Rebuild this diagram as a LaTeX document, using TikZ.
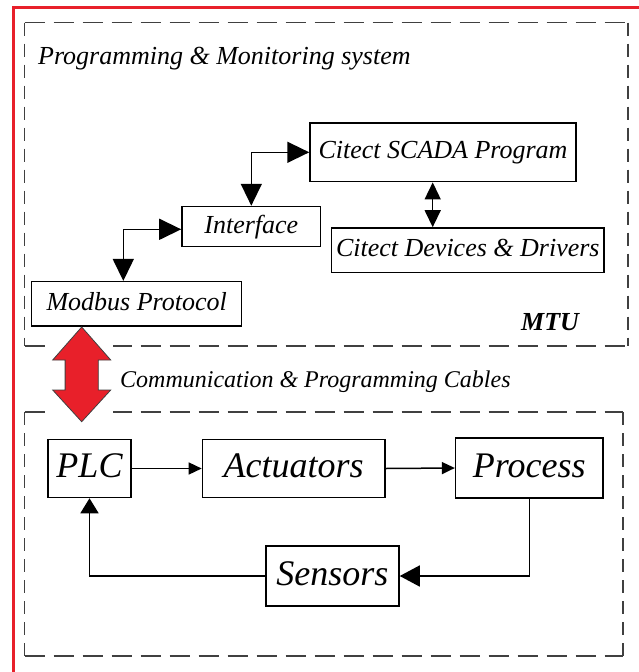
\documentclass[tikz,border=0pt]{standalone}
\usepackage{fontspec}
\setmainfont{Liberation Serif}
\usetikzlibrary{arrows.meta}
\definecolor{frame}{HTML}{E8202A}
\definecolor{dashgray}{HTML}{404040}
\newcommand\smallit{\fontsize{26}{30}\selectfont\itshape}
\newcommand\bigit{\fontsize{36}{40}\selectfont\itshape}
\newcommand\commit{\fontsize{24}{28}\selectfont\itshape}
\newcommand\mtuit{\fontsize{26}{30}\selectfont\bfseries\itshape}
\tikzset{
  box/.style={draw, line width=1.5pt, inner sep=0pt},
  upbox/.style={box, font=\smallit, text height=18.2pt, text depth=5.2pt},
  lowbox/.style={box, font=\bigit, text height=25.2pt, text depth=7.2pt},
  hdash/.style={draw=dashgray, line width=1.5pt, dash pattern=on 20pt off 9pt},
  vdash/.style={draw=dashgray, line width=1.5pt, dash pattern=on 13pt off 8pt},
  conn/.style={line width=1.5pt},
  bigtip/.tip={Triangle[length=22pt, width=21pt]},
  midtip/.tip={Triangle[length=17pt, width=16pt]},
  smalltip/.tip={Triangle[length=13pt, width=12pt]},
  sentip/.tip={Triangle[length=20pt, width=21pt]},
  plctip/.tip={Triangle[length=15pt, width=18pt]},
  label/.style={inner sep=0pt, anchor=base west}
}
\begin{document}
\begin{tikzpicture}[x=1pt, y=-1pt]
\useasboundingbox (0,0) rectangle (639,672);
% red frame
\draw[frame, line width=3pt] (13,7) rectangle (660,690);
% dashed boxes
\path[hdash] (24.5,22.5) -- (628,22.5);
\path[vdash] (24.5,22.5) -- (24.5,346);
\path[vdash] (628,22.5) -- (628,346);
\path[hdash] (24.5,346) -- (628,346);
\path[hdash] (24.5,412) -- (623,412);
\path[vdash] (24.5,412) -- (24.5,656);
\path[vdash] (623,412) -- (623,656);
\path[hdash] (24.5,656) -- (623,656);
% labels
\node[label, font=\smallit] (title) at (38,64) {Programming \& Monitoring system};
\node[label, font=\mtuit] (mtu) at (521,330) {MTU};
\node[label, font=\commit] (comm) at (120,387) {Communication \& Programming Cables};
% upper boxes
\node[upbox, minimum width=266pt, minimum height=58.7pt] (scada) at (443,152.3) {Citect SCADA Program};
\node[upbox, minimum width=138.7pt, minimum height=40.2pt] (iface) at (251.3,226.6) {Interface};
\node[upbox, minimum width=272.3pt, minimum height=44.7pt] (dev) at (467.8,250.3) {Citect Devices \& Drivers};
\node[upbox, minimum width=210pt, minimum height=44.3pt] (modbus) at (136.7,303.8) {Modbus Protocol};
% lower boxes
\node[lowbox, minimum width=83pt, minimum height=58pt] (plc) at (89.5,468.5) {PLC};
\node[lowbox, minimum width=182.5pt, minimum height=58pt] (act) at (293.7,468.5) {Actuators};
\node[lowbox, minimum width=147.4pt, minimum height=60pt] (proc) at (529.3,468) {Process};
\node[lowbox, minimum width=133pt, minimum height=60pt] (sens) at (332.5,576) {Sensors};
% upper connectors
\coordinate (c1) at (123.3,229.3);
\draw[conn, {bigtip}-{bigtip}] (c1 -| iface.west) -- (c1) -- (c1 |- modbus.north);
\draw[conn, {bigtip}-{bigtip}] (scada.west) -- (scada.west -| iface.north) -- (iface.north);
\coordinate (c2) at (432.7,200);
\draw[conn, {midtip}-{midtip}] (c2 |- scada.south) -- (c2 |- dev.north);
% lower connectors
\draw[conn, -{smalltip}] (plc.east) -- (act.west);
\draw[conn, -{smalltip}] (act.east) -- (proc.west);
\draw[conn, -{sentip}] (proc.south) -- (proc.south |- sens.east) -- (sens.east);
\draw[conn, -{plctip}] (sens.west) -- (sens.west -| plc.south) -- (plc.south);
% red communication arrow
\fill[white] (50,338) rectangle (113,420);
\coordinate (ra) at (81.7,327);
\coordinate (rb) at (81.7,421.7);
\draw[fill=frame, draw=dashgray, line width=0.8pt]
  (ra) -- (110.7,360) -- (98.3,360) -- (98.3,390) -- (110.7,390) -- (rb)
  -- (52.7,390) -- (65.1,390) -- (65.1,360) -- (52.7,360) -- cycle;
\end{tikzpicture}
\end{document}
